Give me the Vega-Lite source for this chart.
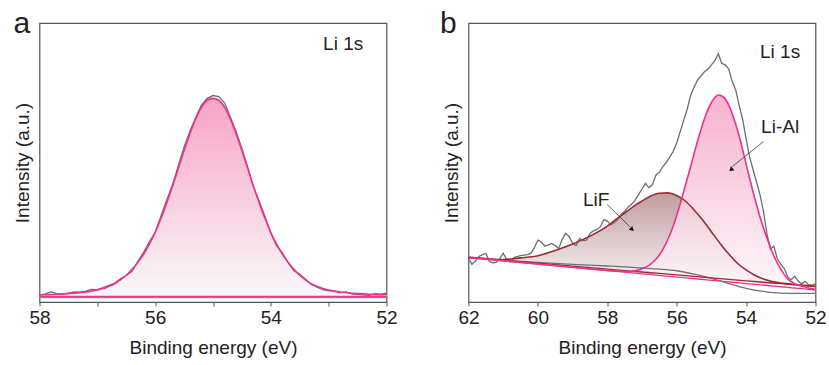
{
  "$schema": "https://vega.github.io/schema/vega-lite/v6.json",
  "padding": {"left": 12.5, "top": 8, "right": 0, "bottom": 0},
  "spacing": 40,
  "config": {
    "font": "Liberation Sans",
    "view": {"stroke": "#555555", "strokeWidth": 1.2},
    "axis": {"grid": false, "domain": false, "labelFont": "Liberation Sans", "labelFontSize": 19, "labelColor": "#222222", "titleFont": "Liberation Sans", "titleFontSize": 19, "titleFontWeight": "normal", "titleColor": "#222222", "tickColor": "#555555", "tickSize": 4, "labelFlush": false, "labelOverlap": false, "labelBound": false}
  },
  "datasets": {
    "a_raw": [
      {"x": 58.0, "y": 2.4}, {"x": 57.9, "y": 2.9}, {"x": 57.8, "y": 3.6}, {"x": 57.7, "y": 3.0}, {"x": 57.6, "y": 2.8},
      {"x": 57.5, "y": 3.2}, {"x": 57.4, "y": 3.6}, {"x": 57.3, "y": 3.5}, {"x": 57.2, "y": 3.9}, {"x": 57.1, "y": 4.5},
      {"x": 57.0, "y": 4.4}, {"x": 56.9, "y": 5.2}, {"x": 56.8, "y": 6.0}, {"x": 56.7, "y": 6.8}, {"x": 56.6, "y": 8.3},
      {"x": 56.5, "y": 9.5}, {"x": 56.4, "y": 11.0}, {"x": 56.3, "y": 14.6}, {"x": 56.2, "y": 17.8}, {"x": 56.1, "y": 21.6},
      {"x": 56.0, "y": 25.0}, {"x": 55.9, "y": 30.8}, {"x": 55.8, "y": 36.6}, {"x": 55.7, "y": 42.0}, {"x": 55.6, "y": 48.9},
      {"x": 55.5, "y": 55.6}, {"x": 55.4, "y": 61.2}, {"x": 55.3, "y": 66.0}, {"x": 55.2, "y": 70.6}, {"x": 55.1, "y": 73.0},
      {"x": 55.0, "y": 74.0}, {"x": 54.9, "y": 73.6}, {"x": 54.8, "y": 71.4}, {"x": 54.7, "y": 66.2}, {"x": 54.6, "y": 61.0},
      {"x": 54.5, "y": 55.0}, {"x": 54.4, "y": 48.2}, {"x": 54.3, "y": 41.3}, {"x": 54.2, "y": 36.0}, {"x": 54.1, "y": 30.6},
      {"x": 54.0, "y": 24.6}, {"x": 53.9, "y": 20.1}, {"x": 53.8, "y": 17.6}, {"x": 53.7, "y": 14.0}, {"x": 53.6, "y": 11.2},
      {"x": 53.5, "y": 10.0}, {"x": 53.4, "y": 8.2}, {"x": 53.3, "y": 6.3}, {"x": 53.2, "y": 5.3}, {"x": 53.1, "y": 4.4},
      {"x": 53.0, "y": 4.0}, {"x": 52.9, "y": 3.9}, {"x": 52.8, "y": 3.3}, {"x": 52.7, "y": 3.6}, {"x": 52.6, "y": 2.9},
      {"x": 52.5, "y": 2.7}, {"x": 52.4, "y": 2.6}, {"x": 52.3, "y": 2.4}, {"x": 52.2, "y": 3.0}, {"x": 52.1, "y": 2.8},
      {"x": 52.0, "y": 3.2}
    ],
    "a_fit": [
      {"x": 58.0, "y": 2.6, "bg": 2.0}, {"x": 57.9, "y": 2.6, "bg": 2.0}, {"x": 57.8, "y": 2.7, "bg": 2.0}, {"x": 57.7, "y": 2.8, "bg": 2.0}, {"x": 57.6, "y": 2.9, "bg": 2.0},
      {"x": 57.5, "y": 3.0, "bg": 2.0}, {"x": 57.4, "y": 3.1, "bg": 2.0}, {"x": 57.3, "y": 3.4, "bg": 2.0}, {"x": 57.2, "y": 3.6, "bg": 2.0}, {"x": 57.1, "y": 3.9, "bg": 2.0},
      {"x": 57.0, "y": 4.3, "bg": 2.0}, {"x": 56.9, "y": 4.8, "bg": 2.0}, {"x": 56.8, "y": 5.6, "bg": 2.0}, {"x": 56.7, "y": 6.5, "bg": 2.0}, {"x": 56.6, "y": 7.9, "bg": 2.0},
      {"x": 56.5, "y": 9.6, "bg": 2.0}, {"x": 56.4, "y": 11.7, "bg": 2.0}, {"x": 56.3, "y": 14.2, "bg": 2.0}, {"x": 56.2, "y": 17.1, "bg": 2.0}, {"x": 56.1, "y": 20.7, "bg": 2.0},
      {"x": 56.0, "y": 24.9, "bg": 2.0}, {"x": 55.9, "y": 29.9, "bg": 2.0}, {"x": 55.8, "y": 35.5, "bg": 2.0}, {"x": 55.7, "y": 41.5, "bg": 2.0}, {"x": 55.6, "y": 47.9, "bg": 2.0},
      {"x": 55.5, "y": 54.3, "bg": 2.0}, {"x": 55.4, "y": 60.3, "bg": 2.0}, {"x": 55.3, "y": 65.6, "bg": 2.0}, {"x": 55.2, "y": 69.8, "bg": 2.0}, {"x": 55.1, "y": 72.3, "bg": 2.0},
      {"x": 55.0, "y": 73.0, "bg": 2.0}, {"x": 54.9, "y": 72.3, "bg": 2.0}, {"x": 54.8, "y": 69.8, "bg": 2.0}, {"x": 54.7, "y": 65.6, "bg": 2.0}, {"x": 54.6, "y": 60.3, "bg": 2.0},
      {"x": 54.5, "y": 54.3, "bg": 2.0}, {"x": 54.4, "y": 47.9, "bg": 2.0}, {"x": 54.3, "y": 41.5, "bg": 2.0}, {"x": 54.2, "y": 35.5, "bg": 2.0}, {"x": 54.1, "y": 29.9, "bg": 2.0},
      {"x": 54.0, "y": 24.9, "bg": 2.0}, {"x": 53.9, "y": 20.7, "bg": 2.0}, {"x": 53.8, "y": 17.1, "bg": 2.0}, {"x": 53.7, "y": 14.2, "bg": 2.0}, {"x": 53.6, "y": 11.7, "bg": 2.0},
      {"x": 53.5, "y": 9.6, "bg": 2.0}, {"x": 53.4, "y": 7.9, "bg": 2.0}, {"x": 53.3, "y": 6.5, "bg": 2.0}, {"x": 53.2, "y": 5.6, "bg": 2.0}, {"x": 53.1, "y": 4.8, "bg": 2.0},
      {"x": 53.0, "y": 4.3, "bg": 2.0}, {"x": 52.9, "y": 3.9, "bg": 2.0}, {"x": 52.8, "y": 3.6, "bg": 2.0}, {"x": 52.7, "y": 3.4, "bg": 2.0}, {"x": 52.6, "y": 3.1, "bg": 2.0},
      {"x": 52.5, "y": 3.0, "bg": 2.0}, {"x": 52.4, "y": 2.9, "bg": 2.0}, {"x": 52.3, "y": 2.8, "bg": 2.0}, {"x": 52.2, "y": 2.7, "bg": 2.0}, {"x": 52.1, "y": 2.6, "bg": 2.0},
      {"x": 52.0, "y": 2.6, "bg": 2.0}
    ],
    "b_raw": [
      {"x": 62.0, "y": 15.7}, {"x": 61.9, "y": 13.5}, {"x": 61.8, "y": 14.8}, {"x": 61.7, "y": 16.3}, {"x": 61.6, "y": 17.0},
      {"x": 61.5, "y": 17.4}, {"x": 61.4, "y": 14.6}, {"x": 61.3, "y": 14.0}, {"x": 61.2, "y": 14.2}, {"x": 61.1, "y": 15.5},
      {"x": 61.0, "y": 17.5}, {"x": 60.9, "y": 15.2}, {"x": 60.8, "y": 14.4}, {"x": 60.7, "y": 15.8}, {"x": 60.6, "y": 16.3},
      {"x": 60.5, "y": 16.6}, {"x": 60.4, "y": 16.8}, {"x": 60.3, "y": 17.0}, {"x": 60.2, "y": 17.5}, {"x": 60.1, "y": 19.5},
      {"x": 60.0, "y": 22.2}, {"x": 59.9, "y": 21.5}, {"x": 59.8, "y": 20.0}, {"x": 59.7, "y": 20.5}, {"x": 59.6, "y": 21.0},
      {"x": 59.5, "y": 20.2}, {"x": 59.4, "y": 19.2}, {"x": 59.3, "y": 22.5}, {"x": 59.2, "y": 24.6}, {"x": 59.1, "y": 23.4},
      {"x": 59.0, "y": 21.0}, {"x": 58.9, "y": 20.2}, {"x": 58.8, "y": 22.8}, {"x": 58.7, "y": 22.0}, {"x": 58.6, "y": 22.2},
      {"x": 58.5, "y": 24.6}, {"x": 58.4, "y": 25.5}, {"x": 58.3, "y": 26.0}, {"x": 58.2, "y": 27.0}, {"x": 58.1, "y": 29.5},
      {"x": 58.0, "y": 29.0}, {"x": 57.9, "y": 27.6}, {"x": 57.8, "y": 28.5}, {"x": 57.7, "y": 29.5}, {"x": 57.6, "y": 31.5},
      {"x": 57.5, "y": 32.4}, {"x": 57.4, "y": 34.0}, {"x": 57.3, "y": 35.0}, {"x": 57.2, "y": 36.5}, {"x": 57.1, "y": 38.5},
      {"x": 57.0, "y": 40.5}, {"x": 56.9, "y": 42.5}, {"x": 56.8, "y": 41.0}, {"x": 56.7, "y": 42.0}, {"x": 56.6, "y": 45.5},
      {"x": 56.5, "y": 46.5}, {"x": 56.4, "y": 48.5}, {"x": 56.3, "y": 50.0}, {"x": 56.2, "y": 52.0}, {"x": 56.1, "y": 54.0},
      {"x": 56.0, "y": 57.0}, {"x": 55.9, "y": 61.0}, {"x": 55.8, "y": 65.0}, {"x": 55.7, "y": 69.0}, {"x": 55.6, "y": 74.0},
      {"x": 55.5, "y": 77.0}, {"x": 55.4, "y": 79.5}, {"x": 55.3, "y": 81.0}, {"x": 55.2, "y": 82.5}, {"x": 55.1, "y": 83.5},
      {"x": 55.0, "y": 85.0}, {"x": 54.9, "y": 86.5}, {"x": 54.8, "y": 89.0}, {"x": 54.7, "y": 85.5}, {"x": 54.6, "y": 85.0},
      {"x": 54.5, "y": 83.5}, {"x": 54.4, "y": 79.0}, {"x": 54.3, "y": 76.0}, {"x": 54.2, "y": 70.5}, {"x": 54.1, "y": 65.5},
      {"x": 54.0, "y": 58.5}, {"x": 53.9, "y": 52.0}, {"x": 53.8, "y": 47.5}, {"x": 53.7, "y": 43.0}, {"x": 53.6, "y": 38.5},
      {"x": 53.5, "y": 32.5}, {"x": 53.4, "y": 24.5}, {"x": 53.3, "y": 19.0}, {"x": 53.2, "y": 20.0}, {"x": 53.1, "y": 15.5},
      {"x": 53.0, "y": 13.5}, {"x": 52.9, "y": 12.0}, {"x": 52.8, "y": 9.0}, {"x": 52.7, "y": 8.0}, {"x": 52.6, "y": 9.2},
      {"x": 52.5, "y": 7.5}, {"x": 52.4, "y": 6.5}, {"x": 52.3, "y": 7.4}, {"x": 52.2, "y": 6.2}, {"x": 52.1, "y": 6.0},
      {"x": 52.0, "y": 6.6}
    ],
    "b_lial": [
      {"x": 62.0, "y": 16.0, "bg": 15.9}, {"x": 61.0, "y": 14.8, "bg": 14.74}, {"x": 60.0, "y": 13.6, "bg": 13.58}, {"x": 59.0, "y": 12.45, "bg": 12.42},
      {"x": 58.0, "y": 11.35, "bg": 11.26}, {"x": 57.5, "y": 10.95, "bg": 10.68}, {"x": 57.2, "y": 11.17, "bg": 10.33}, {"x": 57.0, "y": 11.9, "bg": 10.1},
      {"x": 56.8, "y": 13.1, "bg": 9.87}, {"x": 56.6, "y": 15.3, "bg": 9.64}, {"x": 56.4, "y": 18.8, "bg": 9.4}, {"x": 56.2, "y": 24.0, "bg": 9.17},
      {"x": 56.0, "y": 31.0, "bg": 8.94}, {"x": 55.8, "y": 39.5, "bg": 8.71}, {"x": 55.6, "y": 48.5, "bg": 8.48}, {"x": 55.4, "y": 57.6, "bg": 8.24},
      {"x": 55.2, "y": 65.7, "bg": 8.01}, {"x": 55.0, "y": 71.5, "bg": 7.78}, {"x": 54.8, "y": 74.2, "bg": 7.55}, {"x": 54.6, "y": 72.8, "bg": 7.32},
      {"x": 54.4, "y": 67.5, "bg": 7.08}, {"x": 54.2, "y": 59.5, "bg": 6.85}, {"x": 54.0, "y": 49.5, "bg": 6.62}, {"x": 53.8, "y": 39.5, "bg": 6.39},
      {"x": 53.6, "y": 30.5, "bg": 6.16}, {"x": 53.4, "y": 23.0, "bg": 5.92}, {"x": 53.2, "y": 16.5, "bg": 5.69}, {"x": 53.0, "y": 11.8, "bg": 5.46},
      {"x": 52.8, "y": 8.3, "bg": 5.23}, {"x": 52.6, "y": 6.6, "bg": 5.0}, {"x": 52.4, "y": 5.7, "bg": 4.76}, {"x": 52.2, "y": 5.0, "bg": 4.53},
      {"x": 52.0, "y": 4.5, "bg": 4.3}
    ],
    "b_lif": [
      {"x": 62.0, "y": 16.0, "bg": 16.0}, {"x": 61.5, "y": 15.6, "bg": 15.48}, {"x": 61.0, "y": 15.2, "bg": 14.95}, {"x": 60.5, "y": 15.8, "bg": 14.43},
      {"x": 60.0, "y": 16.6, "bg": 13.9}, {"x": 59.5, "y": 18.5, "bg": 13.38}, {"x": 59.0, "y": 20.8, "bg": 12.85}, {"x": 58.5, "y": 23.6, "bg": 12.33},
      {"x": 58.0, "y": 27.2, "bg": 11.8}, {"x": 57.75, "y": 29.6, "bg": 11.54}, {"x": 57.5, "y": 31.9, "bg": 11.28}, {"x": 57.25, "y": 34.2, "bg": 11.01},
      {"x": 57.0, "y": 36.2, "bg": 10.75}, {"x": 56.75, "y": 38.0, "bg": 10.49}, {"x": 56.5, "y": 39.0, "bg": 10.23}, {"x": 56.25, "y": 39.1, "bg": 9.96},
      {"x": 56.0, "y": 38.2, "bg": 9.7}, {"x": 55.75, "y": 36.2, "bg": 9.44}, {"x": 55.5, "y": 33.0, "bg": 9.18}, {"x": 55.25, "y": 29.4, "bg": 8.91},
      {"x": 55.0, "y": 25.2, "bg": 8.65}, {"x": 54.75, "y": 21.0, "bg": 8.39}, {"x": 54.5, "y": 17.2, "bg": 8.13}, {"x": 54.25, "y": 13.9, "bg": 7.86},
      {"x": 54.0, "y": 11.5, "bg": 7.6}, {"x": 53.75, "y": 9.6, "bg": 7.34}, {"x": 53.5, "y": 8.2, "bg": 7.08}, {"x": 53.25, "y": 7.3, "bg": 6.81},
      {"x": 53.0, "y": 6.8, "bg": 6.55}, {"x": 52.5, "y": 6.2, "bg": 6.03}, {"x": 52.0, "y": 5.6, "bg": 5.5}
    ],
    "b_shirley": [
      {"x": 62.0, "y": 15.8}, {"x": 61.0, "y": 15.0}, {"x": 60.0, "y": 14.2}, {"x": 59.0, "y": 13.5}, {"x": 58.0, "y": 12.9},
      {"x": 57.5, "y": 12.6}, {"x": 57.0, "y": 12.2}, {"x": 56.5, "y": 11.8}, {"x": 56.0, "y": 11.2}, {"x": 55.5, "y": 10.0},
      {"x": 55.0, "y": 8.5}, {"x": 54.5, "y": 6.6}, {"x": 54.0, "y": 4.9}, {"x": 53.5, "y": 3.8}, {"x": 53.0, "y": 3.2},
      {"x": 52.5, "y": 3.1}, {"x": 52.0, "y": 3.1}
    ],
    "one": [{"k": 1}]
  },
  "hconcat": [
    {
      "width": 347,
      "height": 279,
      "layer": [
        {"data": {"name": "a_fit"}, "mark": {"type": "area", "interpolate": "monotone",
          "fill": {"gradient": "linear", "x1": 0, "y1": 0, "x2": 0, "y2": 1, "stops": [{"offset": 0, "color": "#f7a4c6"}, {"offset": 1, "color": "#faf8f9"}]}},
         "encoding": {
           "x": {"field": "x", "type": "quantitative", "scale": {"domain": [52, 58], "reverse": true, "nice": false, "zero": false},
                 "axis": {"title": "Binding energy (eV)", "values": [52, 53, 54, 55, 56, 57, 58], "format": "d", "labelExpr": "datum.value % 2 === 0 ? datum.label : ''", "labelPadding": 2, "titlePadding": 11}},
           "y": {"field": "y", "type": "quantitative", "scale": {"domain": [0, 100], "nice": false, "zero": false},
                 "axis": {"title": "Intensity (a.u.)", "labels": false, "ticks": false, "titlePadding": 7}},
           "y2": {"field": "bg"}}},
        {"data": {"name": "one"}, "mark": {"type": "rule", "color": "#8a8a8a", "strokeWidth": 1.5},
         "encoding": {"y": {"datum": 1.6, "type": "quantitative"}}},
        {"data": {"name": "a_fit"}, "mark": {"type": "line", "color": "#f0308f", "strokeWidth": 1.3},
         "encoding": {"x": {"field": "x", "type": "quantitative"}, "y": {"field": "bg", "type": "quantitative"}}},
        {"data": {"name": "a_raw"}, "mark": {"type": "line", "color": "#6e6e6e", "strokeWidth": 1.3},
         "encoding": {"x": {"field": "x", "type": "quantitative"}, "y": {"field": "y", "type": "quantitative"}}},
        {"data": {"name": "a_fit"}, "mark": {"type": "line", "color": "#f0308f", "strokeWidth": 1.6, "interpolate": "monotone"},
         "encoding": {"x": {"field": "x", "type": "quantitative"}, "y": {"field": "y", "type": "quantitative"}}},
        {"data": {"name": "one"}, "mark": {"type": "text", "fontSize": 19, "color": "#222222", "align": "center", "baseline": "middle", "text": "Li 1s"},
         "encoding": {"x": {"datum": 52.75, "type": "quantitative"}, "y": {"datum": 92.6, "type": "quantitative"}}},
        {"data": {"name": "one"}, "mark": {"type": "text", "fontSize": 30, "color": "#222222", "align": "left", "baseline": "alphabetic", "text": "a"},
         "encoding": {"x": {"datum": 58.45, "type": "quantitative"}, "y": {"datum": 96.4, "type": "quantitative"}}}
      ]
    },
    {
      "width": 347,
      "height": 279,
      "layer": [
        {"data": {"name": "b_lif"}, "mark": {"type": "area", "interpolate": "monotone",
          "fill": {"gradient": "linear", "x1": 0, "y1": 0, "x2": 0, "y2": 1, "stops": [{"offset": 0, "color": "#c29c9f"}, {"offset": 1, "color": "#f8f6f6"}]}},
         "encoding": {
           "x": {"field": "x", "type": "quantitative", "scale": {"domain": [52, 62], "reverse": true, "nice": false, "zero": false},
                 "axis": {"title": "Binding energy (eV)", "values": [52, 53, 54, 55, 56, 57, 58, 59, 60, 61, 62], "format": "d", "labelExpr": "datum.value % 2 === 0 ? datum.label : ''", "labelPadding": 2, "titlePadding": 11}},
           "y": {"field": "y", "type": "quantitative", "scale": {"domain": [0, 100], "nice": false, "zero": false},
                 "axis": {"title": "Intensity (a.u.)", "labels": false, "ticks": false, "titlePadding": 7}},
           "y2": {"field": "bg"}}},
        {"data": {"name": "b_lial"}, "mark": {"type": "area", "interpolate": "monotone", "fillOpacity": 0.85,
          "fill": {"gradient": "linear", "x1": 0, "y1": 0, "x2": 0, "y2": 1, "stops": [{"offset": 0, "color": "#f7a4c6"}, {"offset": 1, "color": "#fbf7f9"}]}},
         "encoding": {"x": {"field": "x", "type": "quantitative"}, "y": {"field": "y", "type": "quantitative"}, "y2": {"field": "bg"}}},
        {"data": {"name": "b_shirley"}, "mark": {"type": "line", "color": "#707070", "strokeWidth": 1.3, "interpolate": "monotone"},
         "encoding": {"x": {"field": "x", "type": "quantitative"}, "y": {"field": "y", "type": "quantitative"}}},
        {"data": {"name": "b_lial"}, "mark": {"type": "line", "color": "#f0308f", "strokeWidth": 1.3},
         "encoding": {"x": {"field": "x", "type": "quantitative"}, "y": {"field": "bg", "type": "quantitative"}}},
        {"data": {"name": "b_lif"}, "mark": {"type": "line", "color": "#9b2b30", "strokeWidth": 1.3},
         "encoding": {"x": {"field": "x", "type": "quantitative"}, "y": {"field": "bg", "type": "quantitative"}}},
        {"data": {"name": "b_raw"}, "mark": {"type": "line", "color": "#6e6e6e", "strokeWidth": 1.3},
         "encoding": {"x": {"field": "x", "type": "quantitative"}, "y": {"field": "y", "type": "quantitative"}}},
        {"data": {"name": "b_lif"}, "mark": {"type": "line", "color": "#9b2b30", "strokeWidth": 1.6, "interpolate": "monotone"},
         "encoding": {"x": {"field": "x", "type": "quantitative"}, "y": {"field": "y", "type": "quantitative"}}},
        {"data": {"name": "b_lial"}, "mark": {"type": "line", "color": "#f0308f", "strokeWidth": 1.6, "interpolate": "monotone"},
         "encoding": {"x": {"field": "x", "type": "quantitative"}, "y": {"field": "y", "type": "quantitative"}}},
        {"data": {"name": "one"}, "mark": {"type": "rule", "color": "#333333", "strokeWidth": 0.8},
         "encoding": {"x": {"datum": 53.5, "type": "quantitative"}, "y": {"datum": 57.5, "type": "quantitative"}, "x2": {"datum": 54.4}, "y2": {"datum": 48.5}}},
        {"data": {"name": "one"}, "mark": {"type": "point", "shape": "triangle", "filled": true, "color": "#111111", "size": 28, "angle": 228, "opacity": 1},
         "encoding": {"x": {"datum": 54.42, "type": "quantitative"}, "y": {"datum": 47.6, "type": "quantitative"}}},
        {"data": {"name": "one"}, "mark": {"type": "rule", "color": "#333333", "strokeWidth": 0.8},
         "encoding": {"x": {"datum": 58.0, "type": "quantitative"}, "y": {"datum": 34.9, "type": "quantitative"}, "x2": {"datum": 57.35}, "y2": {"datum": 27.0}}},
        {"data": {"name": "one"}, "mark": {"type": "point", "shape": "triangle", "filled": true, "color": "#111111", "size": 28, "angle": 133, "opacity": 1},
         "encoding": {"x": {"datum": 57.3, "type": "quantitative"}, "y": {"datum": 26.2, "type": "quantitative"}}},
        {"data": {"name": "one"}, "mark": {"type": "text", "fontSize": 19, "color": "#222222", "align": "center", "baseline": "middle", "text": "Li 1s"},
         "encoding": {"x": {"datum": 53.02, "type": "quantitative"}, "y": {"datum": 89.6, "type": "quantitative"}}},
        {"data": {"name": "one"}, "mark": {"type": "text", "fontSize": 19, "color": "#222222", "align": "center", "baseline": "middle", "text": "Li-Al"},
         "encoding": {"x": {"datum": 53.02, "type": "quantitative"}, "y": {"datum": 62.7, "type": "quantitative"}}},
        {"data": {"name": "one"}, "mark": {"type": "text", "fontSize": 19, "color": "#222222", "align": "center", "baseline": "middle", "text": "LiF"},
         "encoding": {"x": {"datum": 58.32, "type": "quantitative"}, "y": {"datum": 36.6, "type": "quantitative"}}},
        {"data": {"name": "one"}, "mark": {"type": "text", "fontSize": 30, "color": "#222222", "align": "left", "baseline": "alphabetic", "text": "b"},
         "encoding": {"x": {"datum": 62.82, "type": "quantitative"}, "y": {"datum": 96.4, "type": "quantitative"}}}
      ]
    }
  ]
}
